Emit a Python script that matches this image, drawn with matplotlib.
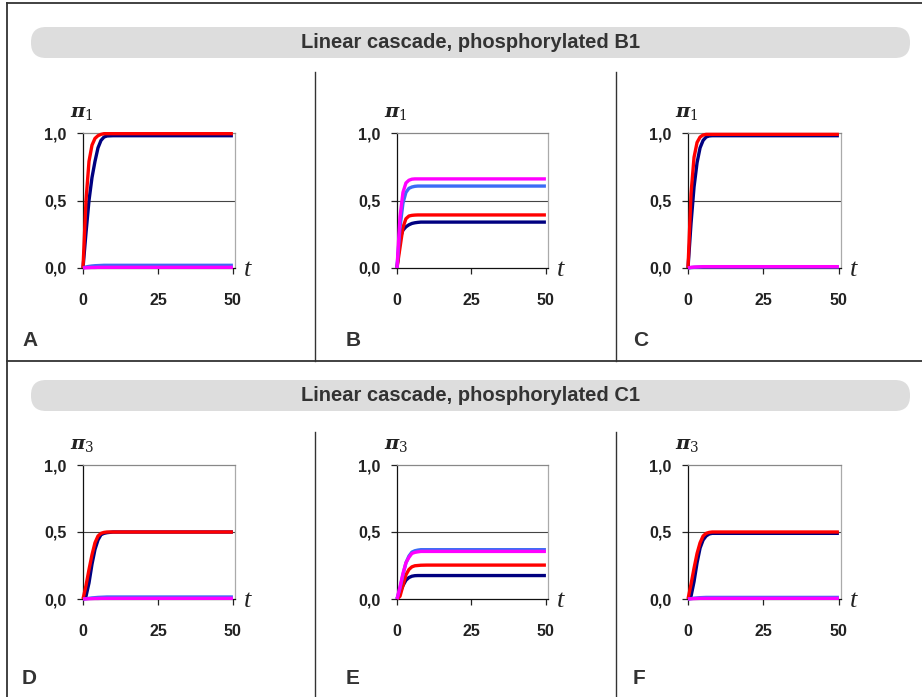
import numpy as np
import matplotlib.pyplot as plt
from matplotlib.patches import FancyBboxPatch
from matplotlib.ticker import FuncFormatter

plt.rcParams['font.family'] = ['Liberation Sans', 'DejaVu Sans']
plt.rcParams['mathtext.fontset'] = 'custom'
plt.rcParams['mathtext.it'] = 'DejaVu Serif:italic:bold'
plt.rcParams['mathtext.rm'] = 'DejaVu Serif'

# time points (shared by all panels)
t = [0, 1, 2, 3, 4, 5, 6, 7, 8, 10, 15, 50]

# Linear cascade, phosphorylated B1 (pi_1)
a_navy = [0, 0.26, 0.50, 0.67, 0.79, 0.89, 0.945, 0.97, 0.978, 0.98, 0.98, 0.98]
a_red = [0, 0.50, 0.79, 0.91, 0.96, 0.98, 0.99, 0.995, 0.995, 0.995, 0.995, 0.995]
a_blue = [0, 0.008, 0.012, 0.015, 0.017, 0.018, 0.019, 0.02, 0.02, 0.02, 0.02, 0.02]
a_mag = [0, 0.002, 0.003, 0.004, 0.004, 0.005, 0.005, 0.005, 0.005, 0.005, 0.005, 0.005]

b_navy = [0, 0.22, 0.28, 0.305, 0.32, 0.33, 0.335, 0.338, 0.34, 0.34, 0.34, 0.34]
b_red = [0, 0.15, 0.30, 0.365, 0.385, 0.39, 0.392, 0.393, 0.393, 0.393, 0.393, 0.393]
b_blue = [0, 0.30, 0.48, 0.56, 0.59, 0.60, 0.605, 0.607, 0.607, 0.607, 0.607, 0.607]
b_mag = [0, 0.38, 0.56, 0.63, 0.65, 0.658, 0.66, 0.66, 0.66, 0.66, 0.66, 0.66]

c_navy = [0, 0.33, 0.60, 0.78, 0.89, 0.945, 0.97, 0.978, 0.98, 0.98, 0.98, 0.98]
c_red = [0, 0.55, 0.82, 0.93, 0.97, 0.985, 0.99, 0.99, 0.99, 0.99, 0.99, 0.99]
c_blue = [0, 0.003, 0.005, 0.006, 0.007, 0.008, 0.008, 0.008, 0.008, 0.008, 0.008, 0.008]
c_mag = [0, 0.005, 0.007, 0.008, 0.009, 0.01, 0.01, 0.01, 0.01, 0.01, 0.01, 0.01]

# Linear cascade, phosphorylated C1 (pi_3)
d_navy = [0, 0.02, 0.12, 0.26, 0.37, 0.44, 0.48, 0.49, 0.495, 0.5, 0.5, 0.5]
d_red = [0, 0.10, 0.22, 0.33, 0.42, 0.47, 0.49, 0.497, 0.5, 0.5, 0.5, 0.5]
d_blue = [0, 0.002, 0.005, 0.008, 0.01, 0.012, 0.013, 0.014, 0.015, 0.015, 0.015, 0.015]
d_mag = [0, 0.001, 0.002, 0.003, 0.004, 0.004, 0.005, 0.005, 0.005, 0.005, 0.005, 0.005]

e_navy = [0, 0.05, 0.10, 0.14, 0.16, 0.17, 0.174, 0.175, 0.175, 0.175, 0.175, 0.175]
e_red = [0, 0.02, 0.10, 0.18, 0.22, 0.24, 0.248, 0.25, 0.252, 0.253, 0.253, 0.253]
e_blue = [0, 0.08, 0.18, 0.27, 0.32, 0.35, 0.36, 0.365, 0.368, 0.368, 0.368, 0.368]
e_mag = [0, 0.09, 0.19, 0.27, 0.31, 0.34, 0.348, 0.352, 0.355, 0.355, 0.355, 0.355]

f_navy = [0, 0.02, 0.13, 0.27, 0.38, 0.44, 0.47, 0.485, 0.49, 0.49, 0.49, 0.49]
f_red = [0, 0.11, 0.23, 0.34, 0.42, 0.47, 0.49, 0.497, 0.5, 0.5, 0.5, 0.5]
f_blue = [0, 0.003, 0.006, 0.008, 0.01, 0.011, 0.012, 0.012, 0.012, 0.012, 0.012, 0.012]
f_mag = [0, 0.002, 0.003, 0.004, 0.005, 0.005, 0.005, 0.005, 0.005, 0.005, 0.005, 0.005]

panels = {
    'A': [a_navy, a_red, a_blue, a_mag],
    'B': [b_navy, b_red, b_blue, b_mag],
    'C': [c_navy, c_red, c_blue, c_mag],
    'D': [d_navy, d_red, d_blue, d_mag],
    'E': [e_navy, e_red, e_blue, e_mag],
    'F': [f_navy, f_red, f_blue, f_mag],
}
ylabels = {'A': r'$\pi_1$', 'B': r'$\pi_1$', 'C': r'$\pi_1$',
           'D': r'$\pi_3$', 'E': r'$\pi_3$', 'F': r'$\pi_3$'}
titles = ['Linear cascade, phosphorylated B1', 'Linear cascade, phosphorylated C1']
colors = ['#000080', '#ff0000', '#3b6cf6', '#ff00ff']

W, H = 922, 697
fig = plt.figure(figsize=(W / 100, H / 100), dpi=100)

# background layer in pixel coordinates
bg = fig.add_axes([0, 0, 1, 1])
bg.set_xlim(0, W)
bg.set_ylim(H, 0)
bg.axis('off')

frame = '#333333'
bg.plot([7, W], [3, 3], color=frame, lw=1.3)
bg.plot([7, 7], [3, H], color=frame, lw=1.3)
bg.plot([7, W], [361, 361], color=frame, lw=1.3)
for x in [315, 616]:
    bg.plot([x, x], [72, 361], color=frame, lw=1)
    bg.plot([x, x], [432, H], color=frame, lw=1)

for title, (y0, y1) in zip(titles, [(27, 58), (380, 411)]):
    bg.add_patch(FancyBboxPatch((31, y0), 879, y1 - y0,
                                boxstyle='round,pad=0,rounding_size=15',
                                fc='#dddddd', ec='none'))
    bg.text(470, (y0 + y1) / 2, title, ha='center', va='center',
            fontsize=14.5, fontweight='bold', color='#333333')

# axes boxes in pixels: left, top, right, bottom
boxes = {
    'A': (83, 133, 235, 268), 'B': (397, 133, 548, 268), 'C': (688, 133, 841, 268),
    'D': (83, 465, 235, 599), 'E': (397, 465, 548, 599), 'F': (688, 465, 841, 599),
}
letter_pos = {'A': (22, 340), 'B': (346, 340), 'C': (633, 340),
              'D': (22, 678), 'E': (346, 678), 'F': (633, 678)}

comma = FuncFormatter(lambda v, p: f'{v:.1f}'.replace('.', ','))

for key, series in panels.items():
    l, tp, r, b = boxes[key]
    ax = fig.add_axes([l / W, 1 - b / H, (r - l) / W, (b - tp) / H])
    for ys, c in zip(series, colors):
        ax.plot(t, ys, color=c, lw=2.4, solid_capstyle='butt', clip_on=False, zorder=3)
    ax.set_xlim(0, 50.7)
    ax.set_ylim(0, 1)
    ax.set_xticks([0, 25, 50])
    ax.set_yticks([0, 0.5, 1.0])
    ax.yaxis.set_major_formatter(comma)
    ax.axhline(0.5, color='#444444', lw=0.8, zorder=1)
    ax.spines['top'].set_color('#888888')
    ax.spines['right'].set_color('#aaaaaa')
    ax.spines['left'].set_color('#111111')
    ax.spines['bottom'].set_color('#111111')
    for s in ax.spines.values():
        s.set_linewidth(0.9)
    ax.tick_params(axis='y', length=4, width=0.9, pad=8, labelsize=11.5, colors='#222222')
    ax.tick_params(axis='x', length=4, width=0.9, pad=14, labelsize=11.5, colors='#222222')
    for lab in ax.get_xticklabels() + ax.get_yticklabels():
        lab.set_fontweight('bold')

    bg.text(l - 1, tp - 19, ylabels[key], ha='center', va='center', fontsize=14, color='#222222')
    bg.text(r + 13, b + 2, 't', ha='center', va='center', fontsize=19,
            family='Liberation Serif', style='italic', color='#222222')
    lx, ly = letter_pos[key]
    bg.text(lx, ly, key, ha='left', va='center', fontsize=15, fontweight='bold', color='#333333')

fig.savefig('out.png', dpi=100)
